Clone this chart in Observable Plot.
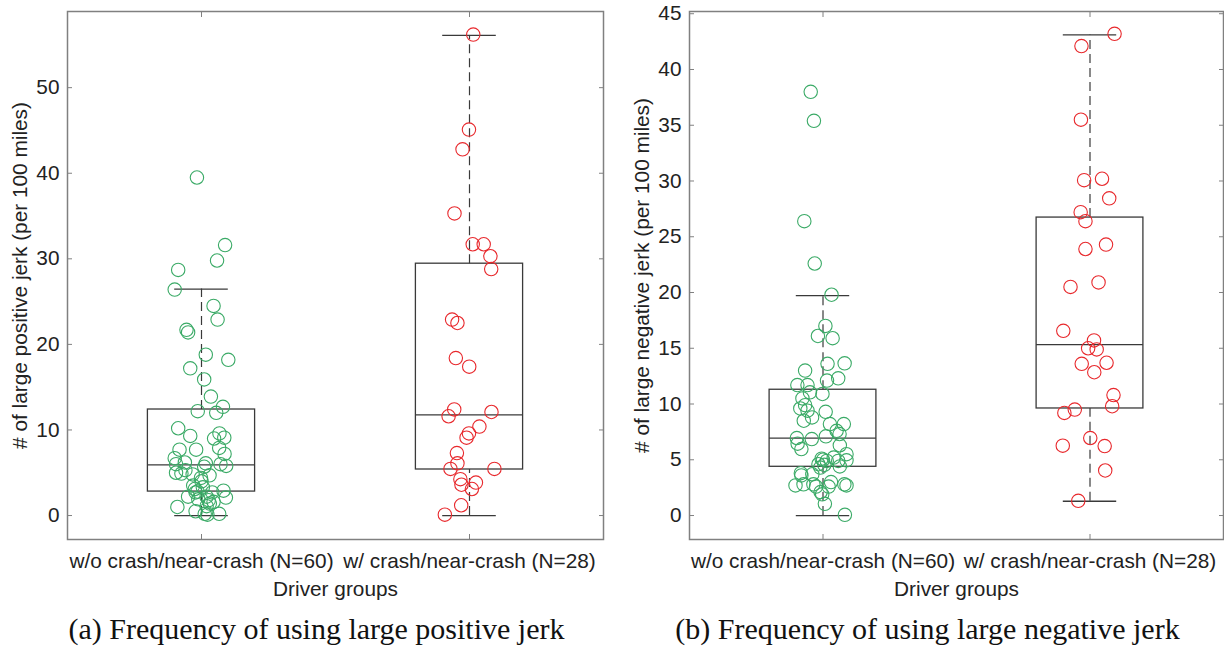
<!DOCTYPE html>
<html><head><meta charset="utf-8">
<script src="https://cdn.jsdelivr.net/npm/d3@7"></script>
<script src="https://cdn.jsdelivr.net/npm/@observablehq/plot@0.6"></script>
<style>
body{margin:0;background:#fff;}
#wrap{display:flex;width:1224px;height:647px;overflow:hidden;}
#wrap svg{display:block;}
</style></head><body><div id="wrap"></div>
<script>
// Categories
const groups = ["w/o crash/near-crash (N=60)", "w/ crash/near-crash (N=28)"];

// (a) large positive jerk — drivers without crash/near-crash
const posNoCrashValues = [39.5,31.6,29.8,28.7,26.4,24.5,22.9,21.7,21.4,18.8,18.2,17.2,15.9,13.9,12.7,12.2,12.0,10.2,9.3,9.0,9.6,9.1,7.7,7.7,7.9,7.2,6.7,6.0,6.2,6.1,5.7,6.0,5.8,5.0,4.9,4.8,4.4,4.0,3.5,3.1,2.8,2.7,2.7,2.9,2.1,2.2,2.2,1.9,1.8,1.4,1.1,1.0,0.5,0.2,0.1,0.2,3.3,4.7,5.3,1.6];
const posNoCrashJitter = [-0.017,0.088,0.058,-0.087,-0.100,0.045,0.060,-0.056,-0.050,0.016,0.100,-0.042,0.010,0.035,0.080,-0.014,0.055,-0.087,-0.042,0.047,0.067,0.085,-0.020,-0.082,0.066,0.086,-0.100,-0.095,-0.062,0.016,0.010,0.071,0.092,-0.095,-0.075,-0.033,-0.002,0.000,-0.031,-0.025,-0.015,-0.022,0.040,0.082,0.091,-0.050,0.019,-0.012,0.027,0.031,0.019,-0.090,-0.022,0.012,0.022,0.066,0.005,0.030,-0.060,0.045];
// (a) large positive jerk — drivers with crash/near-crash
const posCrashValues = [56.2,45.1,42.8,35.3,31.7,31.7,30.3,28.8,22.9,22.5,18.4,17.4,12.4,11.6,12.1,10.4,9.6,9.1,7.3,6.1,5.45,5.45,4.25,3.6,3.85,3.1,1.2,0.1];
const posCrashJitter = [0.014,-0.002,-0.026,-0.056,0.012,0.053,0.078,0.081,-0.065,-0.045,-0.051,-0.001,-0.057,-0.078,0.082,0.037,-0.002,-0.011,-0.047,-0.045,-0.071,0.093,-0.034,-0.030,0.024,0.009,-0.031,-0.092];
// (a) box statistics per group
const posLow = [0, 0];
const posQ1 = [2.8, 5.38];
const posMedian = [5.92, 11.77];
const posQ3 = [12.39, 29.43];
const posHigh = [26.46, 56.1];

// (b) large negative jerk — drivers without crash/near-crash
const negNoCrashValues = [38.0,35.4,26.4,22.6,19.8,17.0,16.1,15.9,13.6,13.65,13.0,12.1,12.3,11.7,11.7,11.05,10.9,10.5,9.6,9.9,9.4,9.3,8.8,8.5,8.2,8.2,7.6,7.3,6.95,6.86,7.1,6.44,5.96,6.3,5.5,5.1,4.9,4.9,4.95,4.6,4.55,4.4,3.8,3.6,2.7,2.8,2.8,2.6,2.6,2.8,2.7,2.1,1.05,0.06,3.7,5.2,4.3,1.9,3.0,5.0];
const negNoCrashJitter = [-0.046,-0.034,-0.070,-0.031,0.032,0.009,-0.019,0.036,0.017,0.081,-0.067,0.015,0.057,-0.096,-0.058,-0.049,-0.002,-0.077,-0.085,-0.067,-0.058,0.010,-0.041,-0.072,0.026,0.078,0.051,0.062,-0.098,-0.042,0.011,-0.095,-0.081,0.063,0.088,-0.005,0.014,0.057,0.088,-0.017,0.005,0.063,-0.083,-0.081,-0.103,-0.073,-0.036,-0.026,0.021,0.080,0.088,-0.009,0.007,0.082,-0.040,0.040,-0.010,-0.003,0.030,0.000];
// (b) large negative jerk — drivers with crash/near-crash
const negCrashValues = [43.2,42.1,35.5,30.07,30.2,28.45,27.2,26.4,23.9,24.3,20.5,20.9,16.56,15.7,15.0,14.9,13.6,13.7,12.85,10.8,9.8,9.2,9.5,6.95,6.26,6.23,4.04,1.32];
const negCrashJitter = [0.092,-0.032,-0.034,-0.022,0.045,0.072,-0.035,-0.017,-0.017,0.060,-0.073,0.032,-0.100,0.015,-0.007,0.025,-0.031,0.062,0.016,0.088,0.083,-0.096,-0.057,0.001,-0.102,0.055,0.057,-0.044];
// (b) box statistics per group
const negLow = [0, 1.28];
const negQ1 = [4.37, 9.6];
const negMedian = [6.94, 15.32];
const negQ3 = [11.28, 26.72];
const negHigh = [19.72, 43.1];

// Axis ticks and texts
const posTicks = [0, 10, 20, 30, 40, 50];
const negTicks = [0, 5, 10, 15, 20, 25, 30, 35, 40, 45];
const xLabel = "Driver groups";
const posYLabel = "# of large positive jerk (per 100 miles)";
const negYLabel = "# of large negative jerk (per 100 miles)";
const posCaption = "(a) Frequency of using large positive jerk";
const negCaption = "(b) Frequency of using large negative jerk";

const GREEN = "#3aaa66";
const RED = "#e8282c";
const BOXC = "#3a3a3a";
const FRAMEC = "#808080";
const TXT = "#222222";

function panel({noV, noJ, crV, crJ, low, q1, med, q3, high, yDomain, yTicks, yLabel, caption, marginLeft, marginRight, captionDx}) {
  const green = noV.map((v, i) => ({pos: 1, v, j: noJ[i]}));
  const red = crV.map((v, i) => ({pos: 2, v, j: crJ[i]}));
  const boxes = groups.map((name, i) => ({pos: i + 1, name, low: low[i], q1: q1[i], med: med[i], q3: q3[i], high: high[i]}));
  const half = 0.2, cap = 0.1;
  return Plot.plot({
    width: 612, height: 647,
    marginTop: 11, marginBottom: 108, marginLeft, marginRight,
    style: {fontFamily: "'Liberation Sans', Arial, sans-serif", fontSize: "20.8px", color: TXT, background: "white", overflow: "visible"},
    x: {domain: [0.5, 2.5]},
    y: {domain: yDomain},
    marks: [
      Plot.ruleX(boxes, {x: "pos", y1: "q3", y2: "high", stroke: BOXC, strokeWidth: 1.2, strokeDasharray: "9,5"}),
      Plot.ruleX(boxes, {x: "pos", y1: "low", y2: "q1", stroke: BOXC, strokeWidth: 1.2, strokeDasharray: "9,5"}),
      Plot.ruleY(boxes, {y: "high", x1: d => d.pos - cap, x2: d => d.pos + cap, stroke: BOXC, strokeWidth: 1.3}),
      Plot.ruleY(boxes, {y: "low", x1: d => d.pos - cap, x2: d => d.pos + cap, stroke: BOXC, strokeWidth: 1.3}),
      Plot.rect(boxes, {x1: d => d.pos - half, x2: d => d.pos + half, y1: "q1", y2: "q3", fill: "none", stroke: BOXC, strokeWidth: 1.3}),
      Plot.ruleY(boxes, {y: "med", x1: d => d.pos - half, x2: d => d.pos + half, stroke: BOXC, strokeWidth: 1.3}),
      Plot.dot(green, {x: d => d.pos + d.j, y: "v", r: 6.7, stroke: GREEN, fill: "none", strokeWidth: 1.1}),
      Plot.dot(red, {x: d => d.pos + d.j, y: "v", r: 6.7, stroke: RED, fill: "none", strokeWidth: 1.1}),
      Plot.frame({stroke: FRAMEC, strokeWidth: 1.5}),
      Plot.axisX([1, 2], {anchor: "bottom", tickSize: 0, tickPadding: 14, tickFormat: d => groups[d - 1], label: null, fill: TXT}),
      Plot.axisX([1, 2], {anchor: "bottom", tickSize: -5, text: null, label: null, stroke: FRAMEC}),
      Plot.axisX([1, 2], {anchor: "top", tickSize: -5, text: null, label: null, stroke: FRAMEC}),
      Plot.axisY(yTicks, {anchor: "left", tickSize: 0, tickPadding: 8, label: null, fill: TXT}),
      Plot.axisY(yTicks, {anchor: "left", tickSize: -5, text: null, label: null, stroke: FRAMEC}),
      Plot.axisY(yTicks, {anchor: "right", tickSize: -5, text: null, label: null, stroke: FRAMEC}),
      Plot.text([yLabel], {frameAnchor: "left", dx: -47, rotate: -90, textAnchor: "middle", lineAnchor: "middle", fill: TXT, fontSize: 20.8}),
      Plot.text([xLabel], {frameAnchor: "bottom", dy: 50, textAnchor: "middle", lineAnchor: "middle", fill: TXT, fontSize: 20.8}),
      Plot.text([caption], {frameAnchor: "bottom", dy: 90, dx: captionDx, textAnchor: "middle", lineAnchor: "middle", fill: "#111", fontSize: 30, fontFamily: "'Liberation Serif', 'Times New Roman', serif"})
    ]
  });
}

const wrap = document.getElementById("wrap");
wrap.append(panel({
  noV: posNoCrashValues, noJ: posNoCrashJitter, crV: posCrashValues, crJ: posCrashJitter,
  low: posLow, q1: posQ1, med: posMedian, q3: posQ3, high: posHigh,
  yDomain: [-2.8, 58.9], yTicks: posTicks, yLabel: posYLabel, caption: posCaption,
  marginLeft: 67, marginRight: 9, captionDx: -19
}));
wrap.append(panel({
  noV: negNoCrashValues, noJ: negNoCrashJitter, crV: negCrashValues, crJ: negCrashJitter,
  low: negLow, q1: negQ1, med: negMedian, q3: negQ3, high: negHigh,
  yDomain: [-2.15, 45.2], yTicks: negTicks, yLabel: negYLabel, caption: negCaption,
  marginLeft: 77, marginRight: 1, captionDx: -29
}));
</script>
</body></html>
